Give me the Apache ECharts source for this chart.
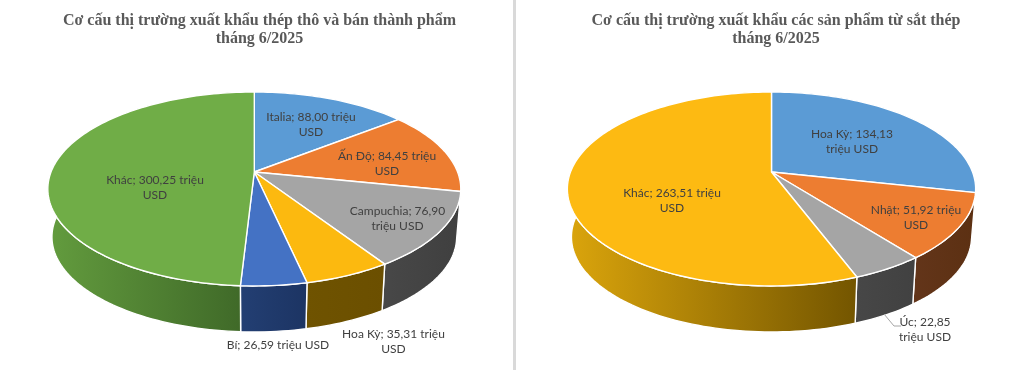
<!DOCTYPE html>
<html>
<head>
<meta charset="utf-8">
<style>html,body{margin:0;padding:0;background:#fff}#c{width:1022px;height:370px}</style>
<script src="https://cdn.jsdelivr.net/npm/echarts@6/dist/echarts.min.js"></script>
</head>
<body>
<div id="c"></div>
<script>
// Data
const leftCategories = ['Italia', 'Ấn Độ', 'Campuchia', 'Hoa Kỳ', 'Bí', 'Khác'];
const leftValues = [88.00, 84.45, 76.90, 35.31, 26.59, 300.25];
const rightCategories = ['Hoa Kỳ', 'Nhật', 'Úc', 'Khác'];
const rightValues = [134.13, 51.92, 22.85, 263.51];
const leftTitle = 'Cơ cấu thị trường xuất khẩu thép thô và bán thành phẩm\ntháng 6/2025';
const rightTitle = 'Cơ cấu thị trường xuất khẩu các sản phẩm từ sắt thép\ntháng 6/2025';
const unit = 'triệu USD';

// Styles and layout (separate from the data)
const leftStyle = {
  x0: 254.3, A: 203.3,
  top: ['#5b9bd5', '#ed7d31', '#a5a5a5', '#fcb90f', '#4472c4', '#70ad47'],
  side: [['#2f5f8e','#2f5f8e'], ['#8a4513','#8a4513'], ['#484848','#3f3f3f'], ['#6f5300','#6b4f00'], ['#233f73','#1c3463'], ['#639c3e','#3d6627']],
  labels: [[311,124.5,'$ 1'], [387,163.5,'$ 1'], [397.5,218.5,'$ 2'], [393.5,341.5,'$ 1'], [278,345,'$ 0'], [155,187.5,'$ 1']]
};
const rightStyle = {
  x0: 771.5, A: 201,
  top: ['#5b9bd5', '#ed7d31', '#a5a5a5', '#fdba12'],
  side: [['#2f5f8e','#2f5f8e'], ['#63351a','#5c3012'], ['#474747','#414141'], ['#dba50c','#735500']],
  labels: [[852,141.5,'$ 2'], [916,217.5,'$ 1'], [925,329.5,'$ 2'], [672,200.5,'$ 1']]
};
const y0 = 172, B = 94, K = 0.175, depthY = 48.3, depthScale = 0.98;

function project(style, deg, lower) {
  const t = deg * Math.PI / 180, u = Math.sin(t), v = -Math.cos(t), w = 1 - K * v;
  const dx = style.A * u / w, dy = B * v / w;
  return lower
    ? [style.x0 + depthScale * dx, y0 + depthY + depthScale * dy]
    : [style.x0 + dx, y0 + dy];
}
function arcPoints(style, a, b, lower) {
  const n = Math.max(8, Math.ceil(Math.abs(b - a) / 1.5)), pts = [];
  for (let i = 0; i <= n; i++) pts.push(project(style, a + (b - a) * i / n, lower));
  return pts;
}
function formatLabel(name, value, breakAfter) {
  const words = (name + '; ' + value.toFixed(2).replace('.', ',') + ' ' + unit).split(' ');
  if (breakAfter === 0) return words.join(' ');
  const cut = words.length - breakAfter;
  return words.slice(0, cut).join(' ') + '\n' + words.slice(cut).join(' ');
}
function buildSeries(cats, vals, style) {
  const total = vals.reduce((s, x) => s + x, 0);
  const start = i => vals.slice(0, i).reduce((s, x) => s + x, 0) / total * 360;
  const end = i => start(i) + vals[i] / total * 360;
  const data = vals.map((v, i) => ({ name: cats[i], value: v }));
  const side = {
    type: 'custom', coordinateSystem: 'none', silent: true, animation: false, z: 2, data,
    renderItem(p) {
      const i = p.dataIndex, a = start(i), b = end(i);
      const pts = arcPoints(style, a, b, false).concat(arcPoints(style, b, a, true));
      return { type: 'polygon', shape: { points: pts }, style: {
        fill: { type: 'linear', x: 0, y: 0, x2: 1, y2: 0, colorStops: [
          { offset: 0, color: style.side[i][0] }, { offset: 1, color: style.side[i][1] }] },
        stroke: '#fff', lineWidth: 1.4 } };
    }
  };
  const topFace = {
    type: 'custom', coordinateSystem: 'none', silent: true, animation: false, z: 3, data,
    renderItem(p) {
      const i = p.dataIndex;
      const pts = [[style.x0, y0]].concat(arcPoints(style, start(i), end(i), false));
      return { type: 'polygon', shape: { points: pts }, style: { fill: style.top[i], stroke: '#fff', lineWidth: 1.4 } };
    }
  };
  const labels = {
    type: 'custom', coordinateSystem: 'none', silent: true, animation: false, z: 4, data,
    renderItem(p) {
      const i = p.dataIndex, l = style.labels[i];
      return { type: 'text', style: {
        x: l[0], y: l[1], text: formatLabel(cats[i], vals[i], +l[2].slice(2)),
        align: 'center', verticalAlign: 'middle', lineHeight: 15,
        font: '12px Lato', fill: '#404040' } };
    }
  };
  return [side, topFace, labels];
}
const titleStyle = { fontFamily: 'Liberation Serif', fontWeight: 'bold', fontSize: 16, color: '#595959', lineHeight: 18 };
const chart = echarts.init(document.getElementById('c'), null, { renderer: 'canvas' });
chart.setOption({
  backgroundColor: '#fff',
  animation: false,
  title: [
    { text: leftTitle, left: 254.5, top: 7, textAlign: 'center', textStyle: titleStyle },
    { text: rightTitle, left: 771, top: 7, textAlign: 'center', textStyle: titleStyle }
  ],
  graphic: [
    { type: 'rect', shape: { x: 513, y: 0, width: 3, height: 370 }, style: { fill: '#d9d9d9' }, z: 1, silent: true },
    { type: 'polyline', shape: { points: [[884, 314], [894, 326], [901, 326]] }, style: { stroke: '#a6a6a6', fill: null, lineWidth: 1 }, z: 5, silent: true }
  ],
  series: buildSeries(leftCategories, leftValues, leftStyle).concat(buildSeries(rightCategories, rightValues, rightStyle))
});
</script>
</body>
</html>
